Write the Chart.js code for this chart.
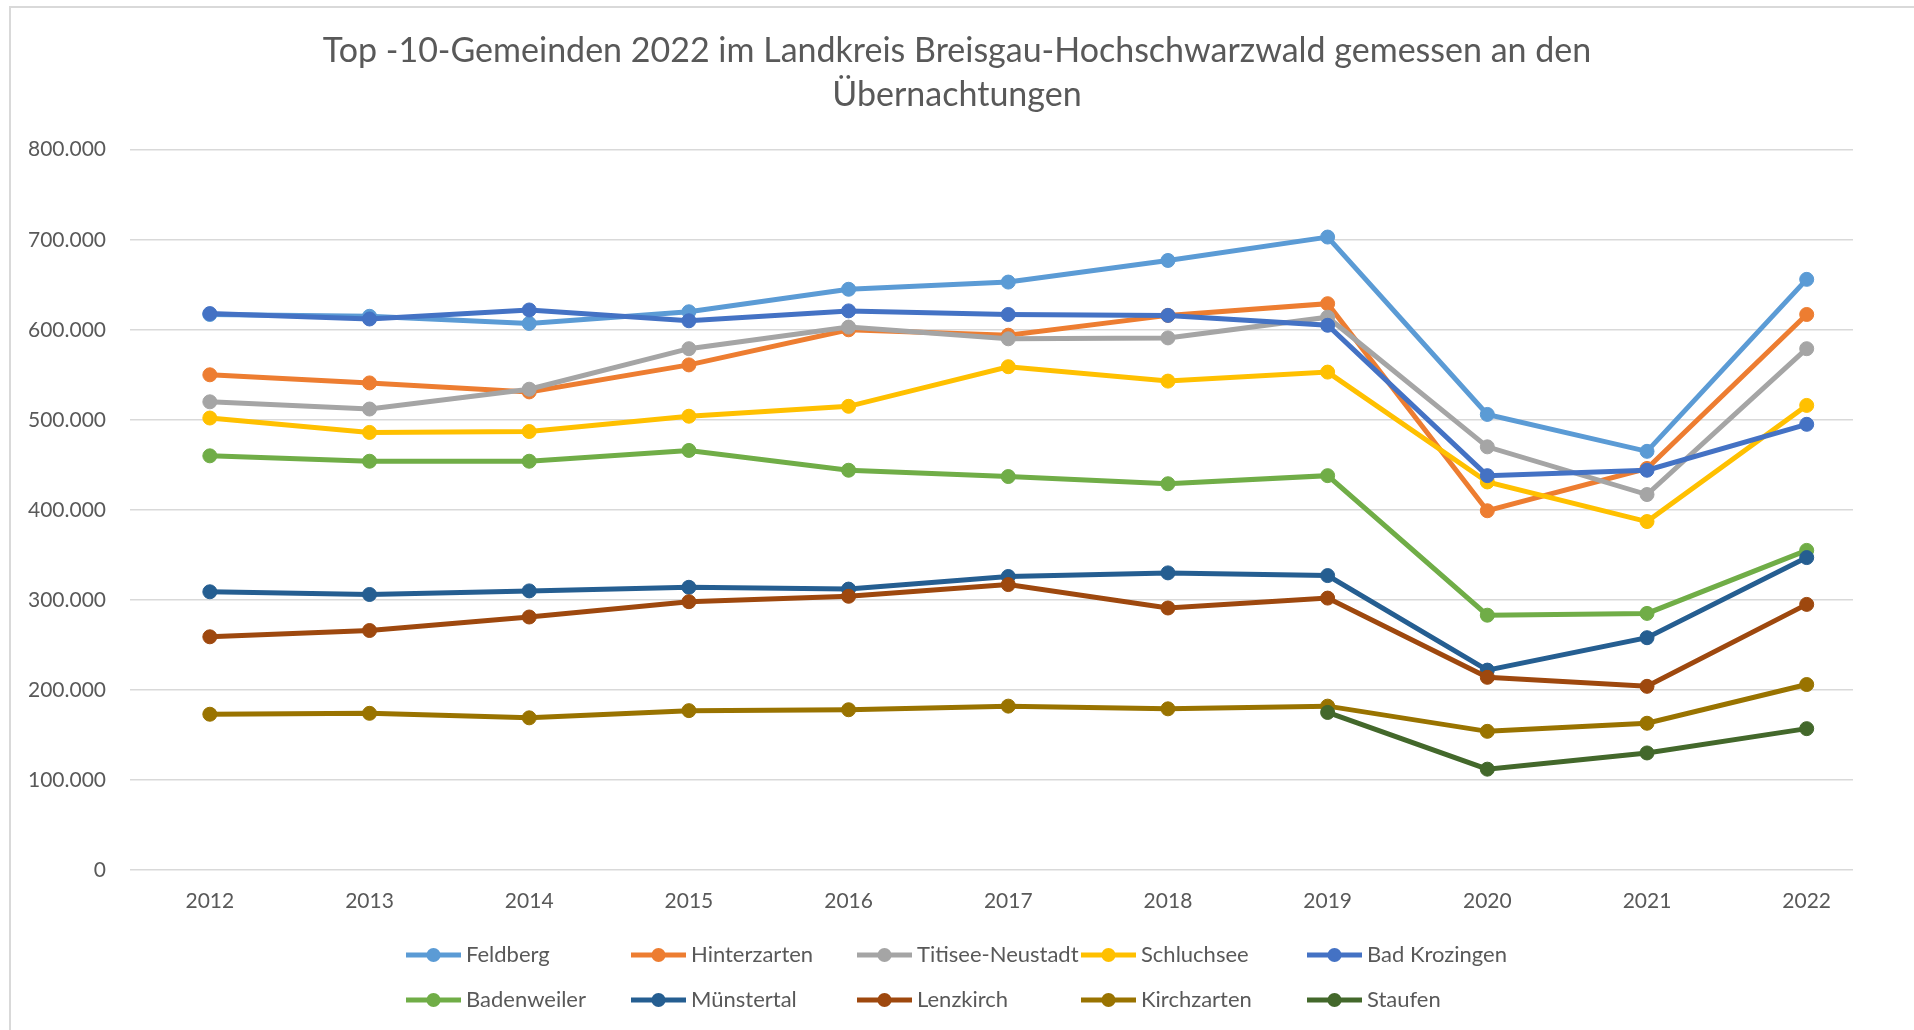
<!DOCTYPE html>
<html>
<head>
<meta charset="utf-8">
<script src="https://cdn.jsdelivr.net/npm/chart.js@4"></script>
<style>
  html, body { margin: 0; padding: 0; background: #ffffff; }
  #wrap { width: 1914px; height: 1030px; }
</style>
</head>
<body>
<div id="wrap"><canvas id="c" width="1914" height="1030"></canvas></div>
<script>
const years = [2012, 2013, 2014, 2015, 2016, 2017, 2018, 2019, 2020, 2021, 2022];

const seriesNames = ['Feldberg','Hinterzarten','Titisee-Neustadt','Schluchsee','Bad Krozingen',
                     'Badenweiler','Münstertal','Lenzkirch','Kirchzarten','Staufen'];

const feldberg      = [617000, 615000, 607000, 620000, 645000, 653000, 677000, 703000, 506000, 465000, 656000];
const hinterzarten  = [550000, 541000, 531000, 561000, 600000, 594000, 616000, 629000, 399000, 446000, 617000];
const titisee       = [520000, 512000, 534000, 579000, 603000, 590000, 591000, 614000, 470000, 417000, 579000];
const schluchsee    = [502000, 486000, 487000, 504000, 515000, 559000, 543000, 553000, 431000, 387000, 516000];
const badKrozingen  = [618000, 612000, 622000, 610000, 621000, 617000, 616000, 605000, 438000, 444000, 495000];
const badenweiler   = [460000, 454000, 454000, 466000, 444000, 437000, 429000, 438000, 283000, 285000, 355000];
const muenstertal   = [309000, 306000, 310000, 314000, 312000, 326000, 330000, 327000, 222000, 258000, 347000];
const lenzkirch     = [259000, 266000, 281000, 298000, 304000, 317000, 291000, 302000, 214000, 204000, 295000];
const kirchzarten   = [173000, 174000, 169000, 177000, 178000, 182000, 179000, 182000, 154000, 163000, 206000];
const staufen       = [null, null, null, null, null, null, null, 175000, 112000, 130000, 157000];

const yTicks = [0, 100000, 200000, 300000, 400000, 500000, 600000, 700000, 800000];

const titleLines = ['Top -10-Gemeinden 2022 im Landkreis Breisgau-Hochschwarzwald gemessen an den', 'Übernachtungen'];

const seriesValues = [feldberg, hinterzarten, titisee, schluchsee, badKrozingen,
                      badenweiler, muenstertal, lenzkirch, kirchzarten, staufen];
const seriesColors = ['#5B9BD5','#ED7D31','#A5A5A5','#FFC000','#4472C4',
                      '#70AD47','#255E91','#9E480E','#997300','#43682B'];

const TEXT = '#595959';
const FONT = 'Lato';

function fmt(v) {
  return String(v).replace(/\B(?=(\d{3})+(?!\d))/g, '.');
}

const datasets = seriesNames.map((name, i) => ({
  label: name,
  data: seriesValues[i].map((v, j) => ({ x: years[j], y: v })),
  borderColor: seriesColors[i],
  backgroundColor: seriesColors[i],
  pointBackgroundColor: seriesColors[i],
  pointBorderColor: seriesColors[i],
  borderWidth: 5,
  pointRadius: 7,
  pointBorderWidth: 1,
  tension: 0,
  spanGaps: false,
  order: seriesNames.length - 1 - i
}));

const framePlugin = {
  id: 'frame',
  beforeDraw(chart) {
    const ctx = chart.ctx;
    ctx.save();
    ctx.fillStyle = '#ffffff';
    ctx.fillRect(0, 0, chart.width, chart.height);
    ctx.strokeStyle = '#D9D9D9';
    ctx.lineWidth = 2;
    ctx.beginPath();
    ctx.moveTo(10, chart.height);
    ctx.lineTo(10, 7);
    ctx.lineTo(chart.width, 7);
    ctx.stroke();
    ctx.restore();
  }
};

const legendPlugin = {
  id: 'gridLegend',
  afterDraw(chart) {
    const ctx = chart.ctx;
    const colX = [406, 631, 857, 1081, 1307];
    const rowY = [955, 1000];
    ctx.save();
    chart.data.datasets.forEach((ds, i) => {
      const x0 = colX[i % 5];
      const y = rowY[Math.floor(i / 5)];
      ctx.strokeStyle = ds.borderColor;
      ctx.lineWidth = 5;
      ctx.lineCap = 'butt';
      ctx.beginPath();
      ctx.moveTo(x0, y);
      ctx.lineTo(x0 + 55, y);
      ctx.stroke();
      ctx.fillStyle = ds.borderColor;
      ctx.beginPath();
      ctx.arc(x0 + 27.5, y, 7, 0, Math.PI * 2);
      ctx.fill();
      ctx.fillStyle = TEXT;
      ctx.font = '22px ' + FONT;
      ctx.textAlign = 'left';
      ctx.textBaseline = 'middle';
      ctx.fillText(ds.label, x0 + 60, y);
    });
    ctx.restore();
  }
};

new Chart(document.getElementById('c'), {
  type: 'line',
  data: { datasets: datasets },
  options: {
    responsive: false,
    animation: false,
    devicePixelRatio: 1,
    layout: { padding: { top: 0, left: 0, right: 0, bottom: 100 } },
    plugins: {
      legend: { display: false },
      tooltip: { enabled: false },
      title: {
        display: true,
        text: titleLines,
        color: TEXT,
        font: { family: FONT, size: 34, weight: 'normal', lineHeight: 1.29 },
        padding: { top: 29, bottom: 33 }
      }
    },
    scales: {
      x: {
        type: 'linear',
        min: years[0] - 0.5,
        max: years[years.length - 1] + 0.29,
        afterBuildTicks(s) { s.ticks = years.map(v => ({ value: v })); },
        grid: { display: false, drawTicks: false },
        border: { display: false },
        ticks: { color: TEXT, font: { family: FONT, size: 21 }, padding: 19, maxRotation: 0,
                 autoSkip: false, callback: v => String(v) },
        afterFit(s) { s.height = 60; }
      },
      y: {
        min: yTicks[0], max: yTicks[yTicks.length - 1],
        afterBuildTicks(s) { s.ticks = yTicks.map(v => ({ value: v })); },
        ticks: { color: TEXT, font: { family: FONT, size: 21 }, padding: 24,
                 callback: v => fmt(v) },
        grid: { color: '#D9D9D9', lineWidth: 1.5, drawTicks: false },
        border: { display: false },
        afterFit(s) { s.width = 130; }
      },
      yRight: {
        type: 'linear',
        position: 'right',
        display: true,
        grid: { display: false, drawTicks: false },
        border: { display: false },
        ticks: { display: false },
        afterFit(s) { s.width = 61; }
      }
    }
  },
  plugins: [framePlugin, legendPlugin]
});
</script>
</body>
</html>
